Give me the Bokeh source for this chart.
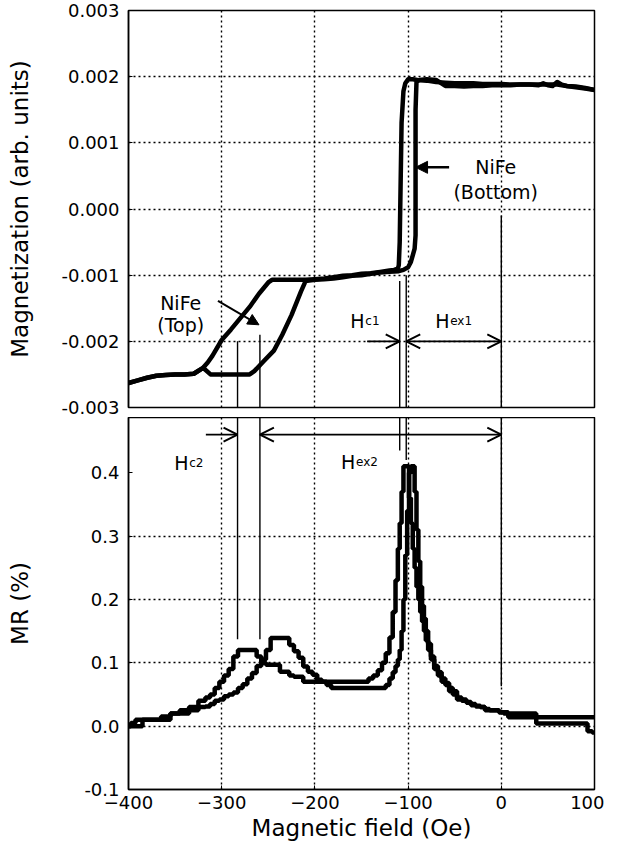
from bokeh.plotting import figure
from bokeh.layouts import column
from bokeh.models import Range1d, FixedTicker, NumeralTickFormatter, Arrow, OpenHead, NormalHead, Label
from bokeh.embed import file_html
from bokeh.resources import INLINE

FONT = "DejaVu Sans"

# ---------------- data ----------------
x_ticks = [-400, -300, -200, -100, 0, 100]
m_ticks = [-0.003, -0.002, -0.001, 0.0, 0.001, 0.002, 0.003]
mr_ticks = [-0.1, 0.0, 0.1, 0.2, 0.3, 0.4]

# Magnetization, descending-field branch
m_field_d = [-400, -390, -380, -370, -360, -350, -340, -330, -320, -315, -310, -300, -290, -280, -270,
             -260, -250, -246, -240, -230, -220, -210, -200, -190, -180, -170, -160, -150, -140, -130,
             -120, -115, -111, -110, -109, -108, -107, -105, -103, -100, -95, -90, -80, -70, -60,
             -50, -40, -30, -20, -10, 0, 10, 20, 30, 40, 45, 50, 55, 60, 65, 70, 80, 90, 100]
m_desc = [-0.00263, -0.00259, -0.00255, -0.00252, -0.00251, -0.0025, -0.0025, -0.00249, -0.0024, -0.00232,
          -0.00222, -0.00198, -0.00182, -0.00165, -0.00148, -0.00128, -0.00111, -0.00107, -0.00107, -0.00107,
          -0.00107, -0.00107, -0.00106, -0.00105, -0.00103, -0.00101, -0.001, -0.00098, -0.00097, -0.00095,
          -0.00093, -0.00092, -0.0009, -0.00085, -0.0005, 0.0004, 0.0013, 0.00178, 0.0019, 0.00196,
          0.00196, 0.00195, 0.00194, 0.00192, 0.00191, 0.0019, 0.0019, 0.0019, 0.00189, 0.00189,
          0.00189, 0.00188, 0.00188, 0.00188, 0.00187, 0.0019, 0.00187, 0.00186, 0.00192, 0.00188,
          0.00186, 0.00185, 0.00183, 0.0018]

# Magnetization, ascending-field branch
m_field_a = [-400, -390, -380, -370, -360, -350, -340, -330, -320, -312, -305, -290, -280, -270, -265,
             -255, -244, -235, -225, -215, -210, -200, -190, -180, -170, -160, -150, -140, -130, -120,
             -110, -105, -100, -97, -95, -93, -92, -92, -91, -88, -80, -70, -60, -50, -40,
             -30, -20, -10, 0, 10, 20, 30, 40, 50, 60, 70, 80, 90, 100]
m_asc = [-0.00263, -0.00259, -0.00255, -0.00252, -0.00251, -0.0025, -0.0025, -0.00249, -0.0024, -0.0025,
         -0.0025, -0.0025, -0.0025, -0.0025, -0.00245, -0.0023, -0.00214, -0.0019, -0.0016, -0.00125,
         -0.00109, -0.00107, -0.00106, -0.00105, -0.00103, -0.00101, -0.001, -0.00098, -0.00096, -0.00095,
         -0.00094, -0.00092, -0.00088, -0.0008, -0.0007, -0.0006, -0.0004, 0.0015, 0.00192, 0.00195,
         0.00196, 0.00195, 0.00186, 0.00186, 0.00185, 0.00186, 0.00186, 0.00187, 0.00187, 0.00187,
         0.00188, 0.00188, 0.00188, 0.00188, 0.00188, 0.00186, 0.00184, 0.00182, 0.0018]

# MR (%)
mr_field = [-400, -395, -390, -380, -370, -360, -350, -340, -330, -320, -315, -310, -305, -300, -295,
            -290, -285, -280, -275, -270, -265, -260, -255, -250, -245, -240, -235, -230, -225, -220,
            -215, -210, -205, -200, -195, -190, -185, -180, -170, -160, -150, -145, -140, -135, -130,
            -126, -122, -118, -115, -112, -110, -108, -106, -104, -102, -100, -98, -96, -94, -92,
            -90, -88, -86, -84, -82, -80, -77, -74, -70, -66, -62, -58, -54, -50, -45,
            -40, -35, -30, -25, -20, -15, -10, -5, 0, 5, 10, 15, 20, 25, 30,
            35, 40, 50, 60, 70, 80, 90, 95, 100]
mr_a = [0.0, 0.005, 0.01, 0.01, 0.01, 0.015, 0.02, 0.025, 0.03, 0.04, 0.045, 0.05, 0.06, 0.07, 0.08,
        0.09, 0.11, 0.12, 0.12, 0.12, 0.12, 0.11, 0.10, 0.097, 0.097, 0.097, 0.086, 0.086, 0.08, 0.078,
        0.078, 0.07, 0.07, 0.07, 0.07, 0.07, 0.07, 0.07, 0.07, 0.07, 0.07, 0.07, 0.075, 0.08, 0.088,
        0.10, 0.115, 0.14, 0.18, 0.23, 0.28, 0.32, 0.37, 0.41, 0.41, 0.41, 0.36, 0.32, 0.28, 0.25,
        0.22, 0.20, 0.18, 0.165, 0.15, 0.135, 0.12, 0.105, 0.09, 0.08, 0.07, 0.065, 0.055, 0.05, 0.042,
        0.04, 0.037, 0.033, 0.031, 0.03, 0.025, 0.025, 0.025, 0.022, 0.022, 0.02, 0.02, 0.02, 0.02, 0.02,
        0.02, 0.014, 0.014, 0.014, 0.014, 0.014, 0.014, 0.014, 0.014]
mr_b = [0.0, 0.0, 0.0, 0.01, 0.01, 0.01, 0.02, 0.02, 0.025, 0.03, 0.031, 0.035, 0.04, 0.042, 0.047,
        0.05, 0.053, 0.06, 0.066, 0.075, 0.084, 0.095, 0.105, 0.12, 0.139, 0.139, 0.139, 0.139, 0.128, 0.118,
        0.108, 0.094, 0.086, 0.081, 0.073, 0.07, 0.065, 0.06, 0.06, 0.06, 0.06, 0.06, 0.06, 0.06, 0.06,
        0.06, 0.065, 0.075, 0.085, 0.095, 0.105, 0.12, 0.15, 0.20, 0.27, 0.34, 0.40, 0.41, 0.41, 0.37,
        0.31, 0.26, 0.22, 0.19, 0.17, 0.15, 0.13, 0.11, 0.095, 0.085, 0.075, 0.068, 0.06, 0.055, 0.045,
        0.042, 0.038, 0.035, 0.032, 0.03, 0.027, 0.025, 0.025, 0.022, 0.02, 0.014, 0.014, 0.014, 0.014, 0.014,
        0.014, 0.004, 0.004, 0.004, 0.004, 0.004, 0.004, -0.008, -0.01]

# characteristic fields (Oe) used for the annotations
hc2_left, hc2_right = -283, -259
hc1_left, hc1_right = -109, -102
h_zero = 0

X_RANGE = (-400, 100)
M_RANGE = (-0.003, 0.003)
MR_RANGE = (-0.1, 0.487)


def style(p, yticks, fmt, ylabel, title_standoff):
    p.outline_line_color = "black"
    p.outline_line_width = 1.5
    p.background_fill_color = "white"
    p.border_fill_color = "white"
    p.xaxis.ticker = FixedTicker(ticks=x_ticks)
    p.yaxis.ticker = FixedTicker(ticks=yticks)
    p.xgrid.ticker = FixedTicker(ticks=x_ticks[1:-1])
    p.ygrid.ticker = FixedTicker(ticks=yticks[1:-1])
    for g in (p.xgrid, p.ygrid):
        g.grid_line_color = "black"
        g.grid_line_dash = "2 3"
        g.grid_line_width = 1.4
    p.yaxis.formatter = NumeralTickFormatter(format=fmt)
    for ax in (p.xaxis, p.yaxis):
        ax.axis_line_color = "black"
        ax.axis_line_width = 1.5
        ax.major_tick_line_color = "black"
        ax.major_tick_in = 4
        ax.major_tick_out = 0
        ax.minor_tick_line_color = None
        ax.major_label_text_font = FONT
        ax.major_label_text_font_size = "18px"
        ax.major_label_text_color = "black"
        ax.axis_label_text_font = FONT
        ax.axis_label_text_font_size = "23px"
        ax.axis_label_text_font_style = "normal"
        ax.axis_label_text_color = "black"
    p.yaxis.major_label_standoff = 9
    p.yaxis.axis_label = ylabel
    p.yaxis.axis_label_standoff = title_standoff


# ---------------- top panel: magnetization ----------------
p1 = figure(width=604, height=417, min_border_left=128, min_border_right=10,
            min_border_top=10, min_border_bottom=10,
            x_range=Range1d(*X_RANGE), y_range=Range1d(*M_RANGE),
            output_backend="svg", toolbar_location=None)
style(p1, m_ticks, "0.000", "Magnetization (arb. units)", 25)
p1.xaxis.visible = False

p1.line(m_field_d, m_desc, line_width=4.5, color="black", line_join="round")
p1.line(m_field_a, m_asc, line_width=4.5, color="black", line_join="round")

# vertical guide lines (top part)
p1.segment(x0=[hc2_left, hc2_right, hc1_left, hc1_right, h_zero],
           y0=[-0.002, -0.0019, -0.00109, -0.001, -0.0001],
           x1=[hc2_left, hc2_right, hc1_left, hc1_right, h_zero],
           y1=[-0.003] * 5, line_width=1.4, color="black")

# Hc1 / Hex1 arrows
arrow_y1 = -0.002
p1.add_layout(Arrow(end=OpenHead(size=14, line_width=2, line_color="black"),
                    x_start=-144, y_start=arrow_y1, x_end=hc1_left, y_end=arrow_y1,
                    line_width=1.6, line_color="black"))
p1.add_layout(Arrow(start=OpenHead(size=14, line_width=2, line_color="black"),
                    end=OpenHead(size=14, line_width=2, line_color="black"),
                    x_start=hc1_right, y_start=arrow_y1, x_end=h_zero, y_end=arrow_y1,
                    line_width=1.6, line_color="black"))

# NiFe labels + arrows
p1.add_layout(Arrow(end=NormalHead(size=11, fill_color="black", line_color="black"),
                    x_start=-304, y_start=-0.00139, x_end=-260, y_end=-0.00175,
                    line_width=2, line_color="black"))
p1.add_layout(Arrow(end=NormalHead(size=12, fill_color="black", line_color="black"),
                    x_start=-56, y_start=0.00063, x_end=-92, y_end=0.00063,
                    line_width=2.5, line_color="black"))


def lab(p, x, y, text, size, align="center", x_offset=0):
    p.add_layout(Label(x=x, y=y, text=text, text_font=FONT, text_font_size=size,
                       text_align=align, text_baseline="alphabetic", x_offset=x_offset,
                       text_color="black"))


lab(p1, -344, -0.00142, "NiFe", "19px")
lab(p1, -344, -0.00176, "(Top)", "19px")
lab(p1, -6, 0.00063, "NiFe", "19px")
lab(p1, -6, 0.00025, "(Bottom)", "19px")

lab(p1, -162, -0.00169, "H", "19px", "left")
lab(p1, -162, -0.00169, "c1", "12px", "left", 15)
lab(p1, -71, -0.00169, "H", "19px", "left")
lab(p1, -71, -0.00169, "ex1", "12px", "left", 15)

# ---------------- bottom panel: MR ----------------
p2 = figure(width=604, height=430, min_border_left=128, min_border_right=10,
            min_border_top=0, min_border_bottom=58,
            x_range=p1.x_range, y_range=Range1d(*MR_RANGE),
            output_backend="svg", toolbar_location=None)
style(p2, mr_ticks, "0.0", "MR (%)", 48)
p2.xaxis.axis_label = "Magnetic field (Oe)"
p2.xaxis.major_label_standoff = 6
p2.xaxis.axis_label_standoff = 3

p2.step(mr_field, mr_a, mode="center", line_width=4.5, color="black")
p2.step(mr_field, mr_b, mode="center", line_width=4.5, color="black")

top2 = MR_RANGE[1]
p2.segment(x0=[hc2_left, hc2_right, hc1_left, hc1_right, h_zero],
           y0=[top2] * 5,
           x1=[hc2_left, hc2_right, hc1_left, hc1_right, h_zero],
           y1=[0.137, 0.137, 0.435, 0.42, 0.063], line_width=1.4, color="black")

arrow_y2 = 0.46
p2.add_layout(Arrow(end=OpenHead(size=14, line_width=2, line_color="black"),
                    x_start=-317, y_start=arrow_y2, x_end=hc2_left, y_end=arrow_y2,
                    line_width=1.6, line_color="black"))
p2.add_layout(Arrow(start=OpenHead(size=14, line_width=2, line_color="black"),
                    end=OpenHead(size=14, line_width=2, line_color="black"),
                    x_start=hc2_right, y_start=arrow_y2, x_end=h_zero, y_end=arrow_y2,
                    line_width=1.6, line_color="black"))

lab(p2, -351, 0.4156, "H", "19px", "left")
lab(p2, -351, 0.4156, "c2", "12px", "left", 15)
lab(p2, -172, 0.417, "H", "19px", "left")
lab(p2, -172, 0.417, "ex2", "12px", "left", 15)

layout = column(p1, p2)
open("out.html", "w").write(file_html(layout, INLINE))
